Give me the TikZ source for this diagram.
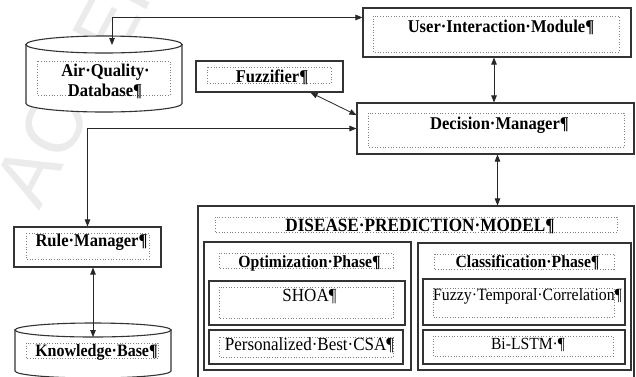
\documentclass[tikz,border=0pt]{standalone}
\usepackage{fontspec}
\setmainfont[FakeStretch=0.92]{Liberation Serif}
\newfontfamily\marksans{Liberation Sans}
\usetikzlibrary{arrows.meta,calc}

\begin{document}
\begin{tikzpicture}[x=1pt,y=-1pt,
  box/.style={draw=black!80, line width=1.1pt, fill=white, rectangle, inner sep=0pt},
  frame/.style={draw=black!50, dotted, line width=0.7pt},
  lbl/.style={inner sep=0pt, anchor=base, font=\bfseries\fontsize{18}{20.7}\selectfont},
  plain/.style={inner sep=0pt, anchor=base, font=\fontsize{18.5}{20}\selectfont},
  cyl/.style={draw=black!80, line width=1.1pt, fill=white},
  twoway/.style={draw=black!85, line width=0.8pt,
    {Triangle[length=7pt,width=5.5pt]}-{Triangle[length=7pt,width=5.5pt]}},
]
\useasboundingbox (0,0) rectangle (636,376);
\fill[white] (0,0) rectangle (636,376);

% faint diagonal watermark
\node[rotate=62, anchor=base west, inner sep=0pt, text=black!8,
      font=\marksans\fontsize{80}{80}\selectfont] (mark) at (39,212) {ACCEPTED};

% ---------- Air quality database (cylinder) ----------
\path[cyl] (26,44.5) -- (26,103.5)
  arc[start angle=180, end angle=0, x radius=78, y radius=8.5] -- (182,44.5) -- cycle;
\draw[cyl] (104,44.5) ellipse[x radius=78, y radius=8.5];
\coordinate (airdb) at (104,78);
\coordinate (airdbIn) at (112,45);
\draw[frame] (37,61) rectangle (170,95);
\node[lbl] (airtxt1) at (105.5,76) {Air·Quality·};
\node[lbl] (airtxt2) at (105,96.5) {Database¶};

% ---------- Knowledge base (cylinder) ----------
\path[cyl] (15,330) -- (15,371)
  arc[start angle=180, end angle=0, x radius=78, y radius=7] -- (171,330) -- cycle;
\draw[cyl] (93,330) ellipse[x radius=78, y radius=7];
\coordinate (kb) at (93,352);
\coordinate (kbIn) at (93,337);
\draw[frame] (26,343) rectangle (158,358);
\node[lbl, font=\bfseries\fontsize{17.4}{20}\selectfont] (kbtxt) at (96.5,356.5) {Knowledge·Base¶};

% ---------- User interaction module ----------
\node[box, minimum width=268pt, minimum height=49pt] (uim) at (497,32.5) {};
\draw[frame] (373,16) rectangle (619,52);
\node[lbl] (uimtxt) at (501,32) {User·Interaction·Module¶};

% ---------- Fuzzifier ----------
\node[box, minimum width=147pt, minimum height=31pt] (fuzz) at (269.5,76.5) {};
\draw[frame] (207,67) rectangle (331,83);
\node[lbl] (fuzztxt) at (272,82) {Fuzzifier¶};

% ---------- Decision manager ----------
\node[box, minimum width=277pt, minimum height=51pt] (dm) at (495.5,128.5) {};
\draw[frame] (368,113) rectangle (624,147);
\node[lbl] (dmtxt) at (499.5,129) {Decision·Manager¶};

% ---------- Rule manager ----------
\node[box, minimum width=147pt, minimum height=40pt] (rm) at (87.5,247) {};
\draw[frame] (26,233) rectangle (149,259);
\node[lbl] (rmtxt) at (91.5,246.5) {Rule·Manager¶};

% ---------- Disease prediction model ----------
\node[box, minimum width=436pt, minimum height=172pt] (dpm) at (416,292) {};
\draw[frame] (215,217) rectangle (617,232);
\node[lbl, font=\bfseries\fontsize{18.7}{20}\selectfont] (dpmtxt) at (420,231) {DISEASE·PREDICTION·MODEL¶};

% optimization phase
\node[box, minimum width=207pt, minimum height=128pt] (opt) at (307.5,306) {};
\draw[frame] (219,253) rectangle (393,268);
\node[lbl, font=\bfseries\fontsize{17.1}{19}\selectfont] (opttxt) at (309.5,267.3) {Optimization·Phase¶};
\node[box, minimum width=196pt, minimum height=44pt] (shoa) at (307,303) {};
\draw[frame] (219,287) rectangle (393,318);
\node[plain] (shoatxt) at (309.5,301.7) {SHOA¶};
\node[box, minimum width=194pt, minimum height=34pt] (csa) at (306,347) {};
\draw[frame] (219,337) rectangle (393,357);
\node[plain] (csatxt) at (309.5,350.7) {Personalized·Best·CSA¶};

% classification phase
\node[box, minimum width=213pt, minimum height=127pt] (cls) at (524.5,306.5) {};
\draw[frame] (434,254) rectangle (614,269);
\node[lbl, font=\bfseries\fontsize{17.1}{19}\selectfont] (clstxt) at (527.5,267) {Classification·Phase¶};
\node[box, minimum width=202pt, minimum height=46pt] (ftc) at (524,302) {};
\draw[frame] (433,288) rectangle (614,317);
\node[plain, font=\fontsize{17.2}{19}\selectfont] (ftctxt) at (527.5,300) {Fuzzy·Temporal·Correlation¶};
\node[box, minimum width=202pt, minimum height=34pt] (bilstm) at (524,347) {};
\draw[frame] (433,336) rectangle (613,356);
\node[plain, font=\fontsize{17}{19}\selectfont] (bilstmtxt) at (528,349.3) {Bi-LSTM·¶};

% ---------- connectors ----------
\draw[twoway] (airdbIn) |- ($(uim.north west)!0.2!(uim.south west)$);
\draw[twoway] ([xshift=-3pt]uim.south) -- ([xshift=-3pt]uim.south |- dm.north);
\draw[twoway] ([xshift=-33pt]fuzz.south east) -- ([yshift=13.5pt]dm.west);
\draw[twoway] (dm.west) -| (rm.north);
\draw[twoway] (rm.south -| kbIn) -- (kbIn);
\draw[twoway] ([xshift=2pt]dm.south) -- ([xshift=2pt]dm.south |- dpm.north);
\end{tikzpicture}
\end{document}
